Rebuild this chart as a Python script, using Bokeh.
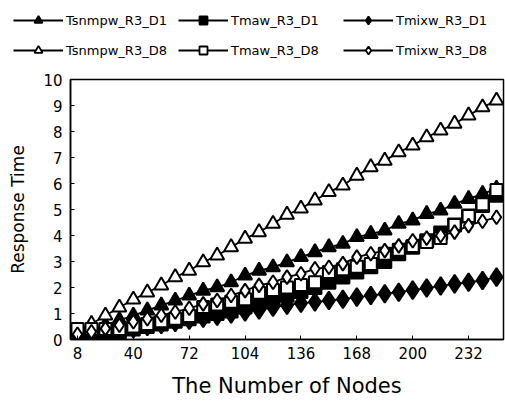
from bokeh.plotting import figure
from bokeh.layouts import column, row
from bokeh.models import Legend, LegendItem, FixedTicker, Range1d
from bokeh.embed import file_html
from bokeh.resources import INLINE

nodes = [8, 16, 24, 32, 40, 48, 56, 64, 72, 80, 88, 96, 104, 112, 120, 128,
         136, 144, 152, 160, 168, 176, 184, 192, 200, 208, 216, 224, 232, 240, 248]

tsnmpw_d1 = [0.2, 0.4, 0.55, 0.75, 0.92, 1.12, 1.31, 1.5, 1.69, 1.88, 2.01, 2.2, 2.46, 2.65, 2.78, 2.97,
             3.17, 3.36, 3.55, 3.68, 3.94, 4.06, 4.19, 4.45, 4.58, 4.83, 4.96, 5.22, 5.41, 5.6, 5.8]
tmaw_d1 = [0.15, 0.2, 0.25, 0.3, 0.4, 0.5, 0.6, 0.7, 0.8, 0.9, 1.0, 1.1, 1.25, 1.4, 1.55, 1.7,
           1.85, 2.0, 2.2, 2.4, 2.6, 2.8, 3.0, 3.3, 3.55, 3.8, 4.1, 4.4, 4.75, 5.15, 5.55]
tmixw_d1 = [0.05, 0.15, 0.25, 0.33, 0.42, 0.5, 0.58, 0.66, 0.74, 0.82, 0.9, 0.98, 1.06, 1.14, 1.24, 1.32,
            1.4, 1.44, 1.5, 1.55, 1.63, 1.69, 1.76, 1.82, 1.9, 1.98, 2.06, 2.14, 2.2, 2.27, 2.4]
tsnmpw_d8 = [0.3, 0.6, 0.92, 1.23, 1.54, 1.81, 2.08, 2.4, 2.65, 2.97, 3.23, 3.55, 3.88, 4.13, 4.45, 4.8,
             5.04, 5.35, 5.67, 5.92, 6.3, 6.63, 6.88, 7.2, 7.46, 7.78, 8.04, 8.3, 8.62, 8.93, 9.19]
tmaw_d8 = [0.4, 0.4, 0.4, 0.4, 0.5, 0.6, 0.7, 0.8, 0.9, 1.25, 1.35, 1.45, 1.55, 1.8, 1.9, 2.0,
           2.1, 2.2, 2.6, 2.7, 2.8, 2.9, 3.3, 3.45, 3.6, 3.75, 3.9, 4.4, 4.75, 5.2, 5.75]
tmixw_d8 = [0.2, 0.3, 0.42, 0.55, 0.68, 0.8, 0.93, 1.06, 1.2, 1.37, 1.5, 1.69, 1.88, 2.08, 2.2, 2.4,
            2.53, 2.72, 2.78, 2.92, 3.17, 3.3, 3.42, 3.6, 3.8, 3.9, 4.0, 4.13, 4.38, 4.55, 4.7]

x_ticks = [8, 40, 72, 104, 136, 168, 200, 232]
y_ticks = [0, 1, 2, 3, 4, 5, 6, 7, 8, 9, 10]

FONT = "DejaVu Sans"
LEG_H = 65

p = figure(width=505, height=412 - LEG_H, output_backend="svg", toolbar_location=None,
           x_range=Range1d(4, 252), y_range=Range1d(0, 10),
           min_border_left=70, min_border_right=2, min_border_top=79 - LEG_H, min_border_bottom=73)
p.background_fill_color = "white"
p.border_fill_color = "white"
p.outline_line_color = "black"
p.outline_line_width = 1.5
p.xgrid.visible = False
p.ygrid.visible = False

for ax in (p.xaxis[0], p.yaxis[0]):
    ax.axis_line_color = "black"
    ax.axis_line_width = 1.5
    ax.major_tick_in = 4
    ax.major_tick_out = 0
    ax.minor_tick_line_color = None
    ax.major_label_text_font = FONT
    ax.major_label_text_font_size = "15px"
    ax.major_label_text_color = "black"
    ax.axis_label_text_font = FONT
    ax.axis_label_text_font_style = "normal"
    ax.axis_label_text_color = "black"

p.xaxis.ticker = FixedTicker(ticks=x_ticks)
p.yaxis.ticker = FixedTicker(ticks=y_ticks)
p.xaxis.axis_label = "The Number of Nodes"
p.xaxis.axis_label_text_font_size = "21px"
p.xaxis.major_label_standoff = 7
p.xaxis.axis_label_standoff = 12
p.yaxis.axis_label = "Response Time"
p.yaxis.axis_label_text_font_size = "17px"
p.yaxis.major_label_standoff = 8
p.yaxis.axis_label_standoff = 12

# legend-only figure on top (its renderers lie outside its own view)
lf = figure(width=505, height=LEG_H, output_backend="svg", toolbar_location=None,
            x_range=Range1d(-20, -10), y_range=Range1d(-20, -10),
            x_axis_location=None, y_axis_location=None,
            min_border=0, min_border_left=0, min_border_right=0, min_border_top=0, min_border_bottom=0)
lf.xgrid.visible = False
lf.ygrid.visible = False
lf.outline_line_color = None
lf.background_fill_color = "white"
lf.border_fill_color = "white"

LW = 1.8
series = [
    ("Tsnmpw_R3_D1", tsnmpw_d1, "triangle", 14, "black"),
    ("Tmaw_R3_D1", tmaw_d1, "square", 13, "black"),
    ("Tmixw_R3_D1", tmixw_d1, "diamond", 18, "black"),
    ("Tsnmpw_R3_D8", tsnmpw_d8, "triangle", 14, "white"),
    ("Tmaw_R3_D8", tmaw_d8, "square", 12, "white"),
    ("Tmixw_R3_D8", tmixw_d8, "diamond", 14, "white"),
]

items = []
for name, ys, marker, size, fill in series:
    p.line(nodes, ys, line_color="black", line_width=LW)
    p.scatter(nodes, ys, marker=marker, size=size, fill_color=fill,
              line_color="black", line_width=2)
    l = lf.line(nodes, ys, line_color="black", line_width=LW)
    m = lf.scatter(nodes, ys, marker=marker, size=size * 0.85, fill_color=fill,
                   line_color="black", line_width=1.8)
    items.append(LegendItem(label=name, renderers=[l, m]))

legend = Legend(items=items, location=(13, 5), orientation="horizontal", ncols=3)
legend.border_line_color = None
legend.background_fill_alpha = 0
legend.label_text_font = FONT
legend.label_text_font_size = "13px"
legend.label_text_color = "black"
legend.glyph_width = 50
legend.glyph_height = 20
legend.label_height = 20
legend.label_width = 102
legend.label_standoff = 3
legend.spacing = 10
legend.padding = 0
legend.margin = 0
lf.add_layout(legend, "center")

layout = column(row(lf), p, spacing=0)
open("out.html", "w").write(file_html(layout, INLINE))
